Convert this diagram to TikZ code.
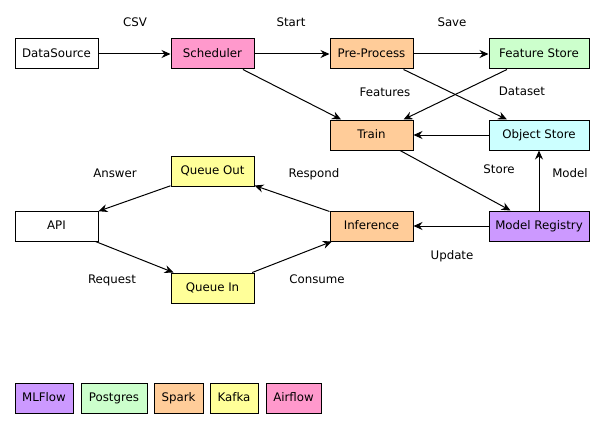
\documentclass[tikz,border=0pt]{standalone}
\usepackage{fontspec}
\setmainfont{DejaVu Sans}
\usetikzlibrary{arrows.meta}
\definecolor{cairflow}{HTML}{FF99CC}
\definecolor{cspark}{HTML}{FFCC99}
\definecolor{cpg}{HTML}{CCFFCC}
\definecolor{ckafka}{HTML}{FFFF99}
\definecolor{cml}{HTML}{CC99FF}
\definecolor{cobj}{HTML}{CCFFFF}
\tikzset{
  box/.style={draw=black, line width=1pt, minimum height=30pt, inner sep=0pt, text height=8.6pt, text depth=2.2pt, font=\fontsize{11.8}{13}\selectfont},
  lbl/.style={font=\fontsize{11.8}{13}\selectfont, inner sep=0pt, text height=8.6pt, text depth=2.2pt},
  conn/.style={line width=1pt, -{Stealth[length=9pt, width=8pt, inset=3pt]}},
}
\begin{document}
\begin{tikzpicture}[x=1pt, y=-1pt]
\useasboundingbox (0,0) rectangle (605,428);
% nodes
\node[box, minimum width=83pt] (ds) at (56.5,54) {DataSource};
\node[box, minimum width=83pt, fill=cairflow] (sch) at (212.5,54) {Scheduler};
\node[box, minimum width=83pt, fill=cspark] (pre) at (371.5,54) {Pre-Process};
\node[box, minimum width=100pt, fill=cpg] (fs) at (539,54) {Feature Store};
\node[box, minimum width=83pt, fill=cspark] (train) at (371.5,135) {Train};
\node[box, minimum width=100pt, fill=cobj] (os) at (539,135) {Object Store};
\node[box, minimum width=83pt, fill=ckafka] (qo) at (212.5,171) {Queue Out};
\node[box, minimum width=83pt] (api) at (56.5,226) {API};
\node[box, minimum width=83pt, fill=cspark] (inf) at (371.5,226) {Inference};
\node[box, minimum width=100pt, fill=cml] (mr) at (539,226) {Model Registry};
\node[box, minimum width=83pt, fill=ckafka] (qi) at (212.5,288) {Queue In};
% legend
\node[box, minimum width=58pt, fill=cml] (l1) at (44,398) {MLFlow};
\node[box, minimum width=66pt, fill=cpg] (l2) at (114,398) {Postgres};
\node[box, minimum width=49pt, fill=cspark] (l3) at (178.5,398) {Spark};
\node[box, minimum width=48pt, fill=ckafka] (l4) at (234,398) {Kafka};
\node[box, minimum width=55pt, fill=cairflow] (l5) at (293.5,398) {Airflow};
% labels
\node[lbl] (t1) at (135,23) {CSV};
\node[lbl] (t2) at (291,23) {Start};
\node[lbl] (t3) at (452,23) {Save};
\node[lbl] (t4) at (385,93) {Features};
\node[lbl] (t5) at (522,92) {Dataset};
\node[lbl] (t6) at (499,170) {Store};
\node[lbl] (t7) at (570,174) {Model};
\node[lbl] (t8) at (115,174) {Answer};
\node[lbl] (t9) at (314,174) {Respond};
\node[lbl] (t10) at (112,280) {Request};
\node[lbl] (t11) at (317,280) {Consume};
\node[lbl] (t12) at (452,256) {Update};
% connectors
\draw[conn] (ds) -- (sch);
\draw[conn] (sch) -- (pre);
\draw[conn] (pre) -- (fs);
\draw[conn] (sch) -- (train);
\draw[conn] (pre) -- (os);
\draw[conn] (fs) -- (train);
\draw[conn] (os) -- (train);
\draw[conn] (train) -- (mr);
\draw[conn] (mr) -- (os);
\draw[conn] (mr) -- (inf);
\draw[conn] (inf) -- (qo);
\draw[conn] (qo) -- (api);
\draw[conn] (api) -- (qi);
\draw[conn] (qi) -- (inf);
\end{tikzpicture}
\end{document}
